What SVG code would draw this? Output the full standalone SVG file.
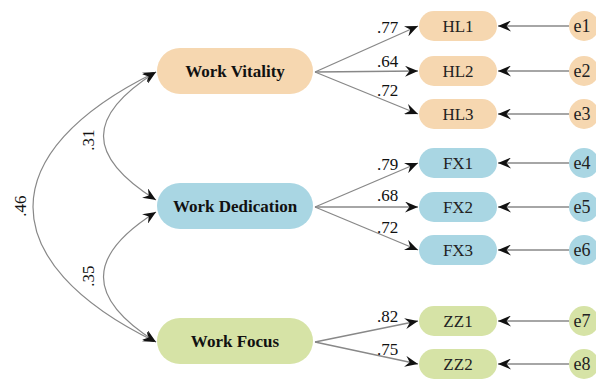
<svg xmlns="http://www.w3.org/2000/svg" width="596" height="379" viewBox="0 0 596 379">
<style>
.lat{font-family:"Liberation Serif",serif;font-weight:bold;font-size:17px;fill:#111;text-anchor:middle;dominant-baseline:central}
.obs{font-family:"Liberation Serif",serif;font-size:17px;fill:#222;text-anchor:middle;dominant-baseline:central}
.err{font-family:"Liberation Serif",serif;font-size:18px;fill:#222;text-anchor:middle;dominant-baseline:central}
.lbl{font-family:"Liberation Serif",serif;font-size:17px;fill:#111}
.ln{stroke:#888;stroke-width:1.3;fill:none;marker-end:url(#ah)}
.cv{stroke:#888;stroke-width:1.2;fill:none;marker-end:url(#ah);marker-start:url(#ah)}
.o{fill:#f6d7b0}.b{fill:#a9d6e3}.g{fill:#d6e3a6}
</style>
<defs>
<marker id="ah" markerUnits="userSpaceOnUse" markerWidth="14" markerHeight="11" refX="13" refY="5.5" orient="auto-start-reverse">
<path d="M0,0 L13,5.5 L0,11 L4.5,5.5 Z" fill="#111"/>
</marker>
</defs>
<g id="connectors">
<path class="cv" d="M156,72 C-8,152 -8,262 156,342"/>
<path class="cv" d="M156,72 C86,116 86,156 156,200"/>
<path class="cv" d="M156,212 C86,256 86,298 156,342"/>
<path class="ln" d="M315,72 L418,26"/>
<path class="ln" d="M315,72 L418,71"/>
<path class="ln" d="M315,72 L418,114"/>
<path class="ln" d="M315,207 L418,163"/>
<path class="ln" d="M315,207 L418,207"/>
<path class="ln" d="M315,207 L418,250"/>
<path class="ln" d="M315,342 L418,321"/>
<path class="ln" d="M315,342 L418,364"/>
<path class="ln" d="M569,26 L498,26"/>
<path class="ln" d="M569,71 L498,71"/>
<path class="ln" d="M569,114 L498,114"/>
<path class="ln" d="M569,163 L498,163"/>
<path class="ln" d="M569,207 L498,207"/>
<path class="ln" d="M569,250 L498,250"/>
<path class="ln" d="M569,321 L498,321"/>
<path class="ln" d="M569,364 L498,364"/>
<text class="lbl" x="377" y="33">.77</text>
<text class="lbl" x="377" y="67">.64</text>
<text class="lbl" x="377" y="96">.72</text>
<text class="lbl" x="377" y="170">.79</text>
<text class="lbl" x="377" y="201">.68</text>
<text class="lbl" x="377" y="233">.72</text>
<text class="lbl" x="377" y="322">.82</text>
<text class="lbl" x="377" y="355">.75</text>
<text class="lbl" transform="translate(94,140) rotate(-90)" text-anchor="middle">.31</text>
<text class="lbl" transform="translate(26,206) rotate(-90)" text-anchor="middle">.46</text>
<text class="lbl" transform="translate(94,276) rotate(-90)" text-anchor="middle">.35</text>
</g>
<g id="work-vitality"><rect class="o" x="157" y="48" width="156" height="46" rx="23"/><text class="lat" x="235" y="71">Work Vitality</text></g>
<g id="work-dedication"><rect class="b" x="157" y="183" width="156" height="46" rx="23"/><text class="lat" x="235" y="206">Work Dedication</text></g>
<g id="work-focus"><rect class="g" x="157" y="318" width="156" height="46" rx="23"/><text class="lat" x="235" y="341">Work Focus</text></g>
<g id="HL1"><rect class="o" x="419" y="11" width="78" height="30" rx="15"/><text class="obs" x="458" y="26">HL1</text></g>
<g id="HL2"><rect class="o" x="419" y="56" width="78" height="30" rx="15"/><text class="obs" x="458" y="71">HL2</text></g>
<g id="HL3"><rect class="o" x="419" y="99" width="78" height="30" rx="15"/><text class="obs" x="458" y="114">HL3</text></g>
<g id="FX1"><rect class="b" x="419" y="148" width="78" height="30" rx="15"/><text class="obs" x="458" y="163">FX1</text></g>
<g id="FX2"><rect class="b" x="419" y="192" width="78" height="30" rx="15"/><text class="obs" x="458" y="207">FX2</text></g>
<g id="FX3"><rect class="b" x="419" y="235" width="78" height="30" rx="15"/><text class="obs" x="458" y="250">FX3</text></g>
<g id="ZZ1"><rect class="g" x="419" y="306" width="78" height="30" rx="15"/><text class="obs" x="458" y="321">ZZ1</text></g>
<g id="ZZ2"><rect class="g" x="419" y="349" width="78" height="30" rx="15"/><text class="obs" x="458" y="364">ZZ2</text></g>
<g id="e1"><circle class="o" cx="584" cy="26" r="15"/><text class="err" x="582" y="26">e1</text></g>
<g id="e2"><circle class="o" cx="584" cy="71" r="15"/><text class="err" x="582" y="71">e2</text></g>
<g id="e3"><circle class="o" cx="584" cy="114" r="15"/><text class="err" x="582" y="114">e3</text></g>
<g id="e4"><circle class="b" cx="584" cy="163" r="15"/><text class="err" x="582" y="163">e4</text></g>
<g id="e5"><circle class="b" cx="584" cy="207" r="15"/><text class="err" x="582" y="207">e5</text></g>
<g id="e6"><circle class="b" cx="584" cy="250" r="15"/><text class="err" x="582" y="250">e6</text></g>
<g id="e7"><circle class="g" cx="584" cy="321" r="15"/><text class="err" x="582" y="321">e7</text></g>
<g id="e8"><circle class="g" cx="584" cy="364" r="15"/><text class="err" x="582" y="364">e8</text></g>
</svg>
